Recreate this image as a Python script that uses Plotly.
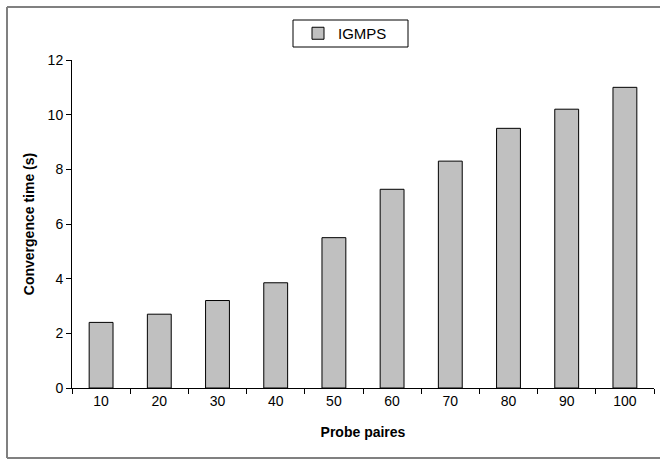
import plotly.graph_objects as go

categories = ["10", "20", "30", "40", "50", "60", "70", "80", "90", "100"]
igmps = [2.4, 2.7, 3.2, 3.85, 5.5, 7.27, 8.3, 9.5, 10.2, 11.0]
y_ticks = [0, 2, 4, 6, 8, 10, 12]

L, R, T, B = 72, 6, 60, 71
W, H = 660, 459
pw = W - L - R
ph = H - T - B

def px_x(p):
    return (p - L) / pw

def px_y(p):
    return (H - B - p) / ph

fig = go.Figure()
fig.add_trace(go.Bar(
    x=categories, y=igmps, name="IGMPS",
    marker=dict(color="#C0C0C0", line=dict(color="black", width=1)),
))

fig.update_layout(
    width=W, height=H,
    margin=dict(l=L, r=R, t=T, b=B, autoexpand=False),
    paper_bgcolor="white", plot_bgcolor="white",
    font=dict(family="Liberation Sans, Arial, sans-serif", size=14, color="black"),
    bargap=0.59,
    showlegend=True,
    legend=dict(
        orientation="h", xref="container", yref="container",
        x=345 / W, xanchor="center", y=1 - 33.5 / H, yanchor="middle",
        borderwidth=0, bgcolor="rgba(0,0,0,0)",
        font=dict(size=15), itemwidth=30,
    ),
    xaxis=dict(
        type="category", showline=True, linecolor="black", linewidth=1,
        ticks="outside", ticklen=5, tickcolor="black", tickson="boundaries",
        showgrid=False, zeroline=False, automargin=False,
        title=dict(text="<b>Probe paires</b>", font=dict(size=14), standoff=19),
        range=[-0.5, 9.5],
    ),
    yaxis=dict(
        range=[0, 12], tickvals=y_ticks, showline=True, linecolor="black", linewidth=1,
        ticks="outside", ticklen=5, tickcolor="black",
        showgrid=False, zeroline=False, automargin=False,
        title=dict(text="<b>Convergence time (s)</b>", font=dict(size=14), standoff=9),
    ),
)

# legend frame
fig.add_shape(
    type="rect", xref="paper", yref="paper",
    x0=px_x(293), x1=px_x(408), y0=px_y(47), y1=px_y(20),
    line=dict(color="black", width=1), fillcolor="rgba(0,0,0,0)", layer="below",
)
# outer chart frame: left, top and bottom edges (right edge is off the picture)
frame = dict(color="#808080", width=2)
fig.add_shape(type="line", xref="paper", yref="paper",
              x0=px_x(7), x1=px_x(7), y0=px_y(458), y1=px_y(7), line=frame, layer="below")
fig.add_shape(type="line", xref="paper", yref="paper",
              x0=px_x(7), x1=px_x(660), y0=px_y(7), y1=px_y(7), line=frame, layer="below")
fig.add_shape(type="line", xref="paper", yref="paper",
              x0=px_x(7), x1=px_x(660), y0=px_y(458), y1=px_y(458), line=frame, layer="below")

fig.write_html(
    "out.html",
    config={"displayModeBar": False},
    post_script="document.body.style.margin='0';document.body.style.overflow='hidden';",
)
